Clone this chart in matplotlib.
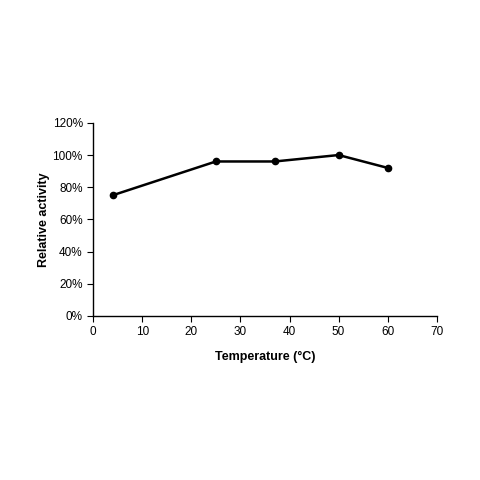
import matplotlib
matplotlib.use("Agg")
import matplotlib.pyplot as plt
from matplotlib.ticker import FuncFormatter

plt.rcParams['font.family'] = ['Liberation Sans', 'DejaVu Sans']

temperature = [4, 25, 37, 50, 60]
activity = [75, 96, 96, 100, 92]

fig = plt.figure(figsize=(4.8, 4.8), dpi=100)
ax = fig.add_axes([0.194, 0.342, 0.716, 0.402])
ax.plot(temperature, activity, color='black', lw=1.8, marker='o', ms=4.5)
ax.set_xlim(0, 70)
ax.set_ylim(0, 120)
ax.set_xticks(range(0, 71, 10))
ax.set_yticks(range(0, 121, 20))
ax.yaxis.set_major_formatter(FuncFormatter(lambda v, p: f"{int(v)}%"))
for s in ['top', 'right']:
    ax.spines[s].set_visible(False)
for s in ['left', 'bottom']:
    ax.spines[s].set_linewidth(1.0)
ax.tick_params(direction='out', length=4, labelsize=8.5)
ax.set_xlabel('Temperature (°C)', fontsize=9, fontweight='bold', labelpad=9)
ax.set_ylabel('Relative activity', fontsize=9, fontweight='bold', labelpad=2)
fig.savefig('out.png', dpi=100)
